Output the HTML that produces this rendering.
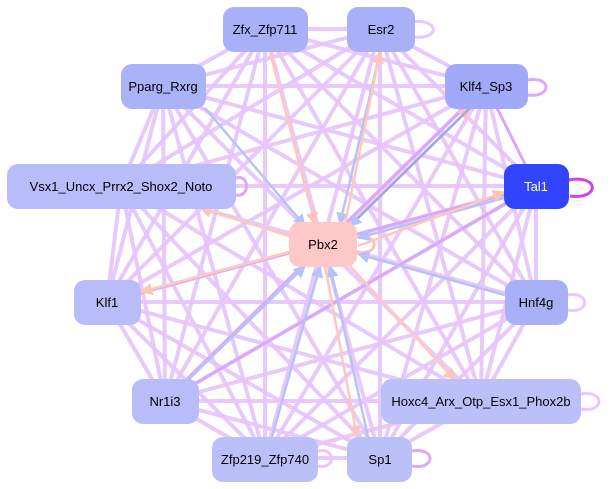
<!DOCTYPE html>
<html><head><meta charset="utf-8"><style>
body{margin:0;background:#fff;}
svg{display:block;font-family:"Liberation Sans",sans-serif;}
</style></head><body>
<svg width="612" height="489" viewBox="0 0 612 489" xmlns="http://www.w3.org/2000/svg">
<defs>
<marker id="a" markerWidth="4" markerHeight="4" refX="3.5" refY="2" orient="auto"><path d="M0,0L4,2L0,4z" fill="#dcb0fa"/></marker>
<marker id="b" markerWidth="5" markerHeight="5" refX="4.5" refY="2.5" orient="auto"><path d="M0,0L5,2.5L0,5z" fill="#b8c2f8"/></marker>
<marker id="c" markerWidth="5" markerHeight="5" refX="4.5" refY="2.5" orient="auto"><path d="M0,0L5,2.5L0,5z" fill="#ffc4b8"/></marker>
</defs>
<g stroke="#e6c4fc" stroke-width="4" fill="none" marker-end="url(#a)" stroke-opacity="0.92">
<line x1="265" y1="29" x2="380" y2="29"/><line x1="265" y1="29" x2="486" y2="86"/><line x1="265" y1="29" x2="163" y2="86"/>
<line x1="265" y1="29" x2="536" y2="186"/><line x1="265" y1="29" x2="121" y2="186"/><line x1="265" y1="29" x2="107" y2="302"/>
<line x1="265" y1="29" x2="536" y2="302"/><line x1="265" y1="29" x2="165" y2="401"/><line x1="265" y1="29" x2="481" y2="401"/>
<line x1="265" y1="29" x2="265" y2="458"/><line x1="265" y1="29" x2="380" y2="458"/>
<line x1="380" y1="29" x2="486" y2="86"/><line x1="380" y1="29" x2="163" y2="86"/><line x1="380" y1="29" x2="536" y2="186"/>
<line x1="380" y1="29" x2="121" y2="186"/><line x1="380" y1="29" x2="107" y2="302"/><line x1="380" y1="29" x2="536" y2="302"/>
<line x1="380" y1="29" x2="165" y2="401"/><line x1="380" y1="29" x2="481" y2="401"/><line x1="380" y1="29" x2="265" y2="458"/><line x1="380" y1="29" x2="380" y2="458"/>
<line x1="486" y1="86" x2="163" y2="86"/><line x1="486" y1="86" x2="121" y2="186"/><line x1="486" y1="86" x2="107" y2="302"/>
<line x1="486" y1="86" x2="536" y2="302"/><line x1="486" y1="86" x2="165" y2="401"/><line x1="486" y1="86" x2="481" y2="401"/>
<line x1="486" y1="86" x2="265" y2="458"/><line x1="486" y1="86" x2="380" y2="458"/>
<line x1="163" y1="86" x2="536" y2="186"/><line x1="163" y1="86" x2="121" y2="186"/><line x1="163" y1="86" x2="107" y2="302"/>
<line x1="163" y1="86" x2="536" y2="302"/><line x1="163" y1="86" x2="165" y2="401"/><line x1="163" y1="86" x2="481" y2="401"/>
<line x1="163" y1="86" x2="265" y2="458"/><line x1="163" y1="86" x2="380" y2="458"/>
<line x1="536" y1="186" x2="121" y2="186"/><line x1="536" y1="186" x2="107" y2="302"/><line x1="536" y1="186" x2="536" y2="302"/>
<line x1="536" y1="186" x2="165" y2="401"/><line x1="536" y1="186" x2="481" y2="401"/><line x1="536" y1="186" x2="265" y2="458"/><line x1="536" y1="186" x2="380" y2="458"/>
<line x1="121" y1="186" x2="107" y2="302"/><line x1="121" y1="186" x2="536" y2="302"/><line x1="121" y1="186" x2="165" y2="401"/>
<line x1="121" y1="186" x2="481" y2="401"/><line x1="121" y1="186" x2="265" y2="458"/><line x1="121" y1="186" x2="380" y2="458"/>
<line x1="107" y1="302" x2="536" y2="302"/><line x1="107" y1="302" x2="165" y2="401"/><line x1="107" y1="302" x2="481" y2="401"/>
<line x1="107" y1="302" x2="265" y2="458"/><line x1="107" y1="302" x2="380" y2="458"/>
<line x1="536" y1="302" x2="165" y2="401"/><line x1="536" y1="302" x2="481" y2="401"/><line x1="536" y1="302" x2="265" y2="458"/><line x1="536" y1="302" x2="380" y2="458"/>
<line x1="165" y1="401" x2="481" y2="401"/><line x1="165" y1="401" x2="265" y2="458"/><line x1="165" y1="401" x2="380" y2="458"/>
<line x1="481" y1="401" x2="265" y2="458"/><line x1="481" y1="401" x2="380" y2="458"/><line x1="265" y1="458" x2="380" y2="458"/>
</g>
<g stroke="#d9a8fa" stroke-width="3" fill="none">
<line x1="486" y1="86" x2="536" y2="186"/><line x1="107" y1="302" x2="536" y2="186"/><line x1="165" y1="401" x2="486" y2="86"/>
<line x1="165" y1="401" x2="536" y2="186"/>
</g>
<g fill="none" stroke-width="3">
<path d="M412,22 C440,18 440,40 414,37" stroke="#e8c8fc"/>
<path d="M528,80 C552,76 552,98 528,95" stroke="#dba8fa"/>
<path d="M568,180 C600,174 600,200 570,196" stroke="#cc44f0"/>
<path d="M236,178 C250,174 250,198 236,195" stroke="#dba8fa"/>
<path d="M357,237 C380,233 380,256 357,252" stroke="#ffc4b8"/>
<path d="M568,295 C590,291 590,314 568,310" stroke="#e8c8fc"/>
<path d="M581,394 C605,390 605,413 581,409" stroke="#e8c8fc"/>
<path d="M412,451 C436,447 436,470 412,466" stroke="#dba8fa"/>
<path d="M318,451 C336,447 336,470 318,466" stroke="#e8c8fc"/>
</g>
<g stroke-width="2.5">
<line x1="205" y1="108" x2="305" y2="226" stroke="#b8c2f8" marker-end="url(#b)"/>
<line x1="270" y1="52" x2="315" y2="224" stroke="#ffc8bc" marker-end="url(#c)"/>
<line x1="380" y1="52" x2="340" y2="224" stroke="#b8c2f8" marker-end="url(#b)"/>
<line x1="345" y1="224" x2="380" y2="52" stroke="#ffc8bc" marker-end="url(#c)"/>
<line x1="348" y1="226" x2="470" y2="108" stroke="#ffc8bc" marker-end="url(#c)"/>
<line x1="470" y1="108" x2="350" y2="226" stroke="#98a8f0" marker-end="url(#b)"/>
<line x1="504" y1="198" x2="358" y2="238" stroke="#b8c2f8" marker-end="url(#b)"/>
<line x1="358" y1="246" x2="504" y2="192" stroke="#ffc8bc" marker-end="url(#c)"/>
<line x1="289" y1="236" x2="200" y2="208" stroke="#ffc8bc" marker-end="url(#c)"/>
<line x1="289" y1="252" x2="141" y2="292" stroke="#ffc8bc" marker-end="url(#c)"/>
<line x1="505" y1="295" x2="358" y2="254" stroke="#b8c2f8" marker-end="url(#b)"/>
<line x1="188" y1="380" x2="305" y2="266" stroke="#b8c2f8" marker-end="url(#b)"/>
<line x1="272" y1="437" x2="320" y2="266" stroke="#b8c2f8" marker-end="url(#b)"/>
<line x1="368" y1="437" x2="330" y2="266" stroke="#b8c2f8" marker-end="url(#b)"/>
<line x1="325" y1="266" x2="357" y2="437" stroke="#ffc8bc" marker-end="url(#c)"/>
<line x1="350" y1="266" x2="455" y2="380" stroke="#ffc8bc" marker-end="url(#c)"/>
</g>
<g font-size="13" text-anchor="middle">
<rect x="223" y="7" width="85" height="45" rx="11" fill="#a8b0f8"/><text x="265" y="34">Zfx_Zfp711</text>
<rect x="347" y="7" width="68" height="45" rx="11" fill="#a8b0f8"/><text x="381" y="34">Esr2</text>
<rect x="445" y="64" width="83" height="45" rx="11" fill="#a0aaf8"/><text x="486" y="91">Klf4_Sp3</text>
<rect x="121" y="64" width="85" height="45" rx="11" fill="#aab2f8"/><text x="163" y="91">Pparg_Rxrg</text>
<rect x="504" y="164" width="65" height="45" rx="11" fill="#3344ff"/><text x="536" y="191" fill="#fff">Tal1</text>
<rect x="7" y="164" width="229" height="45" rx="11" fill="#b8bcf8"/><text x="121" y="191">Vsx1_Uncx_Prrx2_Shox2_Noto</text>
<rect x="289" y="222" width="68" height="45" rx="11" fill="#ffc8c8"/><text x="323" y="249">Pbx2</text>
<rect x="74" y="280" width="67" height="45" rx="11" fill="#b8bcf8"/><text x="107" y="307">Klf1</text>
<rect x="505" y="280" width="63" height="45" rx="11" fill="#a8b0f8"/><text x="536" y="307">Hnf4g</text>
<rect x="132" y="379" width="67" height="45" rx="11" fill="#b8bcf8"/><text x="165" y="406">Nr1i3</text>
<rect x="381" y="379" width="200" height="45" rx="11" fill="#bcc0f8"/><text x="481" y="406">Hoxc4_Arx_Otp_Esx1_Phox2b</text>
<rect x="212" y="437" width="106" height="45" rx="11" fill="#bcc0f8"/><text x="265" y="464">Zfp219_Zfp740</text>
<rect x="347" y="437" width="65" height="45" rx="11" fill="#bcc0f8"/><text x="380" y="464">Sp1</text>
</g>
</svg>
</body></html>
